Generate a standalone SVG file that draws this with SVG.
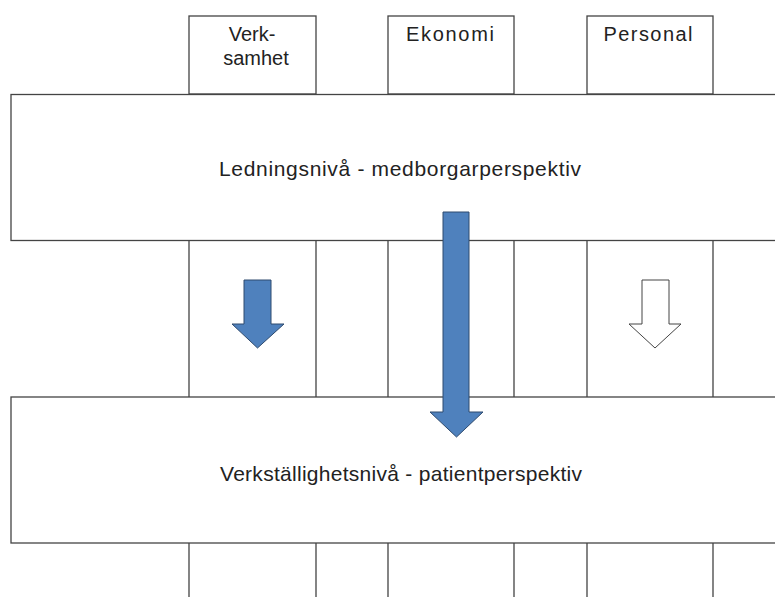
<svg xmlns="http://www.w3.org/2000/svg" width="775" height="597" viewBox="0 0 775 597">
<style>
.ln{fill:#fff;stroke:#444;stroke-width:1.3}
.col{fill:none;stroke:#444;stroke-width:1.3}
.t{font-family:"Liberation Sans",Arial,sans-serif;fill:#222;text-anchor:middle}
.big{font-size:21px}
.sm{font-size:20px}
.ab{fill:#4F81BD;stroke:#2e4a6e;stroke-width:1}
.aw{fill:#fff;stroke:#444;stroke-width:1}
</style>
<rect width="775" height="597" fill="#fff"/>
<g id="columns">
<path class="col" d="M189,94V597M316,94V597M388,94V597M514,94V597M587,94V597M713,94V597"/>
</g>
<g id="verksamhet">
<rect class="ln" x="189" y="16" width="127" height="78"/>
<text class="t sm" x="252" y="41">Verk-</text>
<text class="t sm" x="256" y="65">samhet</text>
</g>
<g id="ekonomi">
<rect class="ln" x="388" y="16" width="126" height="78"/>
<text class="t sm" x="450" y="41" textLength="88" lengthAdjust="spacing">Ekonomi</text>
</g>
<g id="personal">
<rect class="ln" x="587" y="16" width="126" height="78"/>
<text class="t sm" x="648" y="41" textLength="89" lengthAdjust="spacing">Personal</text>
</g>
<g id="ledningsniva">
<rect class="ln" x="11" y="94.5" width="780" height="146"/>
<text class="t big" x="400" y="176" textLength="362" lengthAdjust="spacing">Ledningsnivå - medborgarperspektiv</text>
</g>
<g id="verkstallighetsniva">
<rect class="ln" x="11" y="397" width="780" height="146"/>
<text class="t big" x="401" y="481" textLength="362" lengthAdjust="spacing">Verkställighetsnivå - patientperspektiv</text>
</g>
<g id="connectors">
<polygon class="ab" points="244,280 271,280 271,324 284,324 257.5,348 232,324 244,324"/>
<polygon class="aw" points="642,280 669,280 669,324 681,324 655,348 629,324 642,324"/>
<polygon class="ab" points="443,212 469,212 469,412 483,412 456.5,437 430,412 443,412"/>
</g>
</svg>
